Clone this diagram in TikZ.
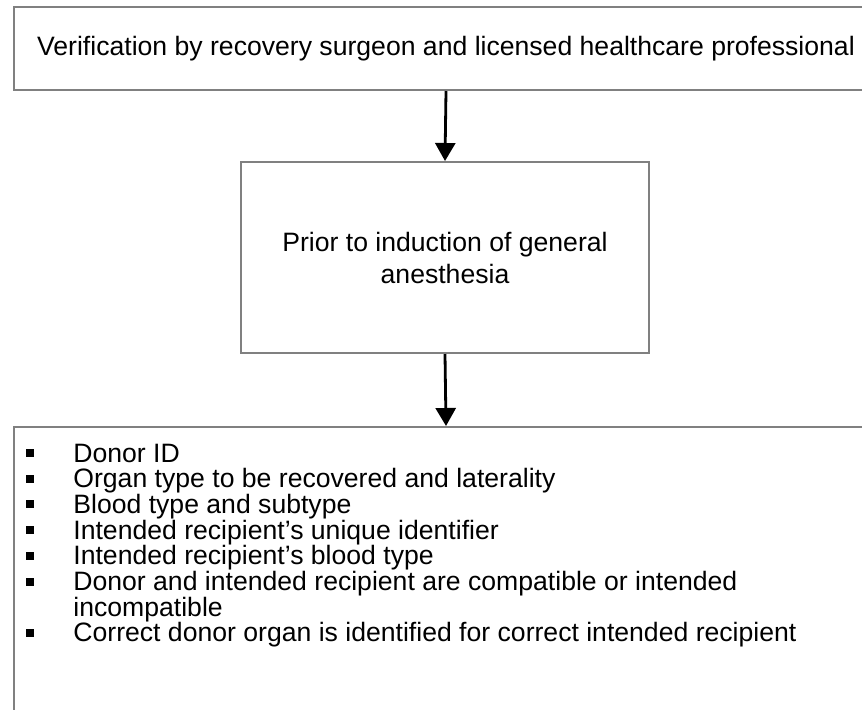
\documentclass[tikz,border=0pt]{standalone}
\usepackage{fontspec}
\setmainfont{Liberation Sans}
\usetikzlibrary{arrows.meta, positioning}

\tikzset{
	box/.style = {draw = black!50, line width = 1pt, align = center, inner sep = 0pt},
	flow/.style = {-{Triangle[width = 10pt, length = 9pt]}, line width = 1.4pt},
	bulletsq/.style = {fill = black, minimum size = 4pt, inner sep = 0pt},
	item/.style = {anchor = base west, align = left, inner sep = 0pt}
}

\begin{document}
\begin{tikzpicture}[x = 0.5pt, y = -0.5pt, font = \fontsize{13.3}{12.85}\selectfont]
		\def\base{462};
		\def\gap{25.7};
		
		\useasboundingbox (0,0) rectangle (862,709);
		\clip (0,0) rectangle (862,709);
		
		% the three steps
		\node [box, anchor = north west, minimum width = 432pt, minimum height = 41.5pt] (verify) at (13,6)
			{Verification by recovery surgeon and licensed healthcare professional};
		
		\node [box, minimum width = 204pt, minimum height = 95.5pt, font = \fontsize{13.3}{16}\selectfont] (prior) at (445,257.5)
			{Prior to induction of general\\anesthesia};
		
		\node [box, anchor = north west, minimum width = 432pt, minimum height = 170pt] (checks) at (13,426) {};
		
		\draw [flow] (verify.south) -- (prior.north);
		\draw [flow] (prior.south) -- (checks.north);
		
		% checklist: bullet on first line, text base on last line
		\foreach \row/\last/\txt in {0/0/Donor ID,
				1/1/Organ type to be recovered and laterality,
				2/2/Blood type and subtype,
				3/3/Intended recipient’s unique identifier,
				4/4/Intended recipient’s blood type,
				5/6/{Donor and intended recipient are compatible or intended\\incompatible},
				7/7/Correct donor organ is identified for correct intended recipient} {
			\node [bulletsq] (dot\row) at (30, {\base + \gap*\row - 9}) {};
			\node [item] (item\row) at (73, {\base + \gap*\last}) {\txt};
		}
	\end{tikzpicture}
\end{document}
